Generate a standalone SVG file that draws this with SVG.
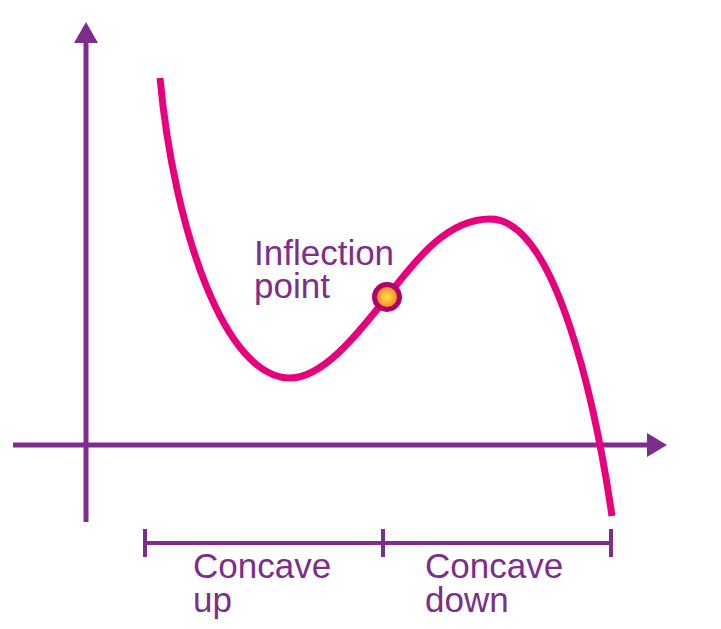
<svg xmlns="http://www.w3.org/2000/svg" width="721" height="629" viewBox="0 0 721 629">
  <style>
    .axis { stroke: #7d2e8c; stroke-width: 5; fill: none; }
    .tick { stroke: #7d2e8c; stroke-width: 4; fill: none; }
    .head { fill: #7d2e8c; }
    .curve { stroke: #e6007e; stroke-width: 7; fill: none; stroke-linecap: butt; }
    .lbl { font-family: "Liberation Sans", Arial, sans-serif; font-size: 35px; fill: #7d2e8c; }
  </style>
  <defs>
    <radialGradient id="glow" cx="50%" cy="50%" r="50%">
      <stop offset="0" stop-color="#ffe14a"/>
      <stop offset="1" stop-color="#f07a28"/>
    </radialGradient>
  </defs>
  <rect width="721" height="629" fill="#ffffff"/>
  <g id="connectors">
    <line class="axis" x1="86" y1="522" x2="86" y2="40"/>
    <polygon class="head" points="86,22 98,43 74,43"/>
    <line class="axis" x1="13" y1="445" x2="650" y2="445"/>
    <polygon class="head" points="667,445 647,433 647,457"/>
    <path class="tick" d="M145,543 H611 M145,529 V557 M383,529 V557 M611,529 V557"/>
  </g>
  <g id="curve">
    <path class="curve" d="M160,78 C174,230 225,378 290,378 C325,378 362,328 387,297 C413,264 445,219 490,219 C555,219 595,400 612,516"/>
  </g>
  <g id="inflection-point">
    <circle cx="387" cy="297" r="12.5" fill="url(#glow)" stroke="#b2006a" stroke-width="5"/>
    <text class="lbl" x="254" y="265">Inflection</text>
    <text class="lbl" x="254" y="298">point</text>
  </g>
  <g id="concave-up">
    <text class="lbl" x="193" y="578">Concave</text>
    <text class="lbl" x="193" y="612">up</text>
  </g>
  <g id="concave-down">
    <text class="lbl" x="425" y="578">Concave</text>
    <text class="lbl" x="425" y="612">down</text>
  </g>
</svg>
